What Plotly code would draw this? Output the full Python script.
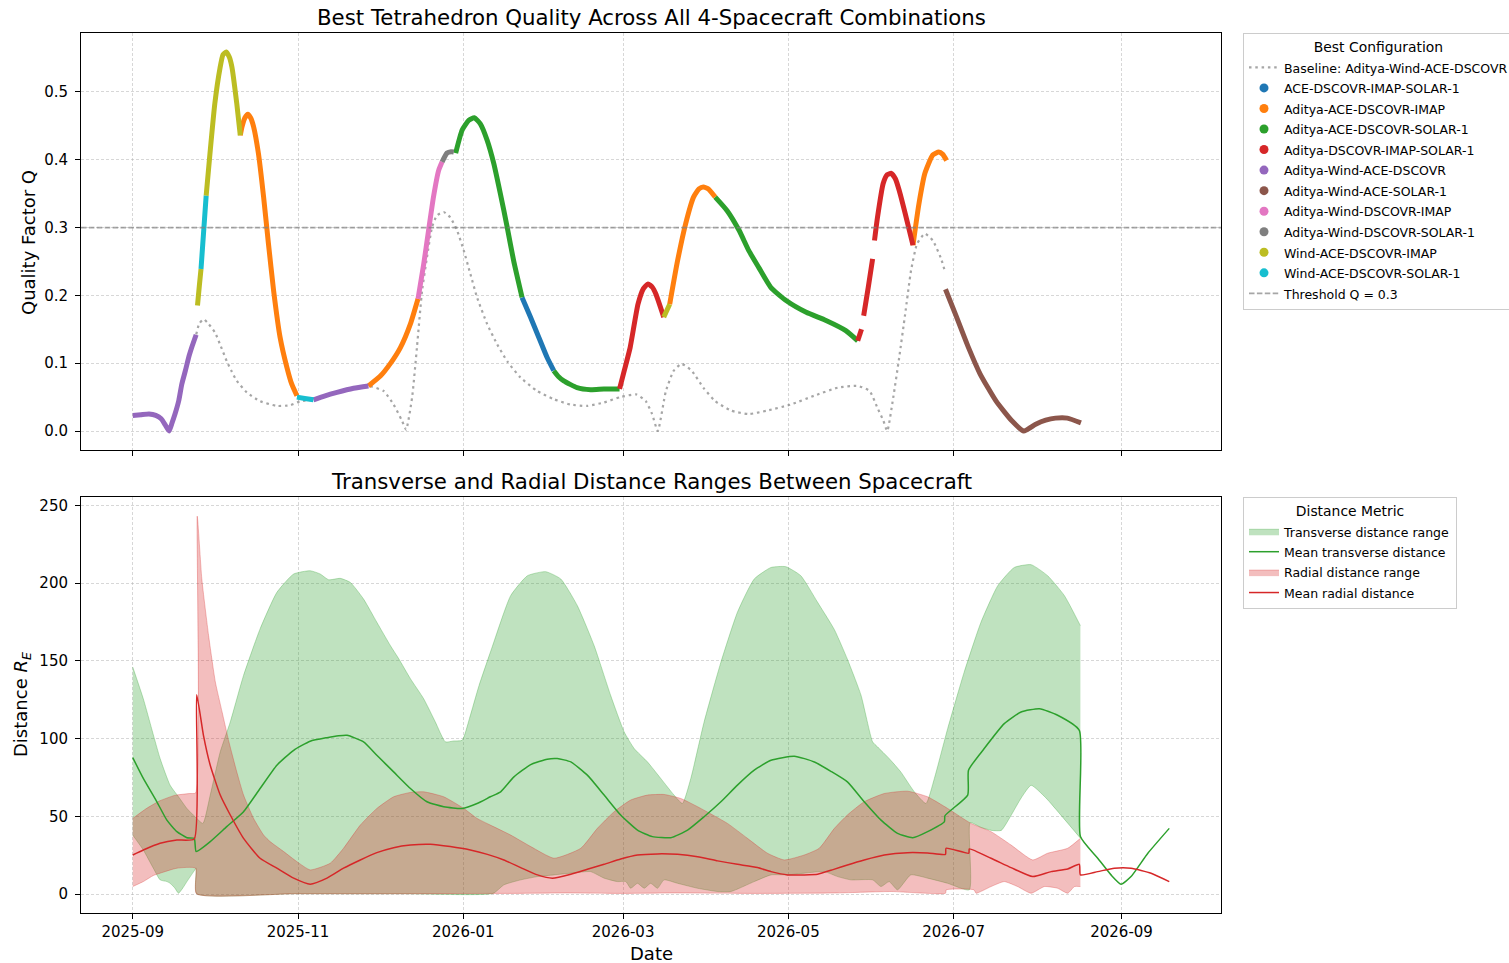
import pandas as pd
import plotly.graph_objects as go

START = pd.Timestamp("2025-09-01")

# ---------------- data: top panel ----------------
configs = [
    "ACE-DSCOVR-IMAP-SOLAR-1",
    "Aditya-ACE-DSCOVR-IMAP",
    "Aditya-ACE-DSCOVR-SOLAR-1",
    "Aditya-DSCOVR-IMAP-SOLAR-1",
    "Aditya-Wind-ACE-DSCOVR",
    "Aditya-Wind-ACE-SOLAR-1",
    "Aditya-Wind-DSCOVR-IMAP",
    "Aditya-Wind-DSCOVR-SOLAR-1",
    "Wind-ACE-DSCOVR-IMAP",
    "Wind-ACE-DSCOVR-SOLAR-1",
]
config_colors = ["#1f77b4", "#ff7f0e", "#2ca02c", "#d62728", "#9467bd",
                 "#8c564b", "#e377c2", "#7f7f7f", "#bcbd22", "#17becf"]

# days since 2025-09-01
best_day = [0, 3, 6, 8.5, 10.5, 12, 13.4, 14.5, 15.6, 17, 18.1, 19.5, 20.6, 22, 23.4,
            23.9, 24.6, 25.2,
            25.2, 26.1, 27.1,
            27.1, 28.5, 30.3, 32.2, 33.3, 34.5, 35.6, 36.6, 38.4, 39.7,
            39.7, 40.3, 41.4, 42.5, 43.5, 44.6, 46.4, 48.3, 50.1, 52, 54.4, 56.9, 58.7, 60.6,
            60.6, 63.5, 66.7,
            66.7, 71, 75.4, 81.5, 87,
            87, 91.4, 95, 98.8, 102.5, 105.3,
            105.3, 107.4, 109.2, 111, 112.9, 114.2,
            114.2, 116, 117.5, 118.5,
            119.2, 121.6, 124, 126.1, 128.3, 130.8, 133.3, 135.7, 138.2, 140.6, 143.7,
            143.7, 146.8, 149.9, 153, 155.4,
            155.4, 157.2, 159.1, 164, 169, 173.9, 179.7,
            179.7, 181.5, 183.6, 186.5, 188.5, 190.2, 191.8, 193.1, 196,
            196, 198.2,
            198.2, 201.1, 204.1, 207, 209, 210.6, 212.5, 215,
            215, 219.4, 223.8, 227.4, 231.1, 235.5, 241.3, 248.6, 255.9, 263.2, 267.6,
            267.6, 269, 269.4, 269.8, 271.5, 273.1, 273.45, 273.8, 274.9, 277, 278.5, 280, 281.5, 282.9, 285.8, 288,
            288, 290.2, 292.4, 295.3, 297.5, 299, 300.4,
            300, 304.1, 308.5, 312.8, 318.7, 324.5, 328.9, 333.3, 337, 340.6, 345, 350]
best_q = [0.023, 0.024, 0.025, 0.023, 0.018, 0.009, 0.0, 0.012, 0.025, 0.045, 0.069, 0.09, 0.108, 0.126, 0.142,
          0.185, 0.215, 0.239,
          0.239, 0.29, 0.347,
          0.347, 0.409, 0.483, 0.535, 0.555, 0.559, 0.552, 0.537, 0.483, 0.436,
          0.436, 0.448, 0.462, 0.467, 0.462, 0.449, 0.409, 0.345, 0.276, 0.207, 0.138, 0.094, 0.069, 0.052,
          0.050, 0.048, 0.046,
          0.046, 0.052, 0.057, 0.063, 0.0665,
          0.0665, 0.081, 0.099, 0.123, 0.158, 0.195,
          0.195, 0.246, 0.296, 0.345, 0.384, 0.397,
          0.397, 0.41, 0.412, 0.4115,
          0.41, 0.444, 0.458, 0.462, 0.453, 0.429, 0.394, 0.35, 0.301, 0.251, 0.197,
          0.197, 0.168, 0.138, 0.108, 0.089,
          0.089, 0.08, 0.074, 0.064, 0.061, 0.062, 0.062,
          0.062, 0.09, 0.123, 0.187, 0.21, 0.217, 0.212, 0.202, 0.168,
          0.168, 0.187,
          0.187, 0.251, 0.306, 0.345, 0.357, 0.36, 0.357, 0.345,
          0.345, 0.325, 0.296, 0.266, 0.241, 0.212, 0.192, 0.175, 0.163, 0.148, 0.133,
          0.133, 0.15, None, 0.17, 0.212, 0.254, None, 0.281, 0.315, 0.365, 0.378, 0.38, 0.372, 0.355, 0.31, 0.274,
          0.274, 0.335, 0.38, 0.407, 0.4115, 0.408, 0.399,
          0.209, 0.168, 0.123, 0.084, 0.044, 0.015, 0.0, 0.01, 0.016, 0.019, 0.019, 0.012]
best_cfg = ([4] * 15 + [8] * 3 + [9] * 3 + [8] * 10 + [1] * 14 + [9] * 3 + [4] * 5 + [1] * 6
            + [6] * 6 + [7] * 4 + [2] * 11 + [0] * 5 + [2] * 7 + [3] * 9 + [8] * 2 + [1] * 8
            + [2] * 11 + [3] * 16 + [1] * 7 + [5] * 12)

baseline_day = [0, 3, 6, 8.5, 10.5, 12, 13.4, 14.5, 15.6, 17, 18.1, 19.5, 20.6, 22, 23.4,
                24.5, 26.1, 28, 30.4, 32.5, 34.7, 36.5, 38.4, 42.1, 47, 53.2, 58.1, 61.8,
                66.7, 71, 75.4, 81.5, 87, 92.6, 96.3, 99.4, 100.9, 103.1, 104.9, 106.8, 108.6,
                110.5, 112.3, 114.8, 117.2, 119.7, 122.2, 124.6, 127.1, 130.8, 134.5, 138.2,
                143.1, 149.3, 155.4, 161.6, 167.7, 173.9, 180, 185.8, 189.4, 191.7, 193.8,
                196.8, 199.7, 202.6, 206.3, 210.6, 215, 220.9, 227.4, 234, 242.8, 251.5, 260.3,
                267.6, 272, 274.9, 277.1, 278.5, 280.7, 282.9, 285.1, 287.3, 289.5, 292.4,
                295.3, 298.2, 299.7]
baseline_q = [0.023, 0.024, 0.025, 0.023, 0.018, 0.009, 0.0, 0.012, 0.025, 0.045, 0.069, 0.09, 0.108, 0.126, 0.142,
              0.158, 0.165, 0.158, 0.145, 0.125, 0.103, 0.088, 0.074, 0.057, 0.044, 0.037, 0.038, 0.044,
              0.046, 0.052, 0.057, 0.063, 0.0665, 0.059, 0.039, 0.015, 0.002, 0.049, 0.123, 0.207, 0.256,
              0.301, 0.318, 0.323, 0.315, 0.296, 0.266, 0.232, 0.197, 0.158, 0.128, 0.103,
              0.079, 0.059, 0.047, 0.039, 0.037, 0.042, 0.05, 0.054, 0.044, 0.025, 0.0,
              0.059, 0.089, 0.099, 0.089, 0.064, 0.044, 0.03, 0.025, 0.03, 0.039, 0.052, 0.064,
              0.0665, 0.059, 0.034, 0.015, 0.0, 0.049, 0.108, 0.172, 0.237, 0.276, 0.291,
              0.281, 0.256, 0.237]
threshold_q = 0.3

# ---------------- data: bottom panel ----------------
trans_max_day = [0, 3.9, 10.1, 13.8, 16.9, 20, 23, 25.9, 28.6, 32.3, 36, 40.9, 47, 53.2, 59.4, 65.5,
                 69.2, 72.3, 76.6, 80.3, 85.2, 90.1, 95.1, 98.2, 102.5, 107.4, 111.7, 115.4, 118.5,
                 121.6, 124.3, 127.8, 132.5, 139.5, 145.7, 152.4, 158, 164.1, 170.3, 176.4, 181.4,
                 185.1, 190, 194.9, 199.8, 202.9, 206, 210.9, 217.1, 223.2, 229.4, 235.6, 241.1,
                 246.6, 252.8, 259, 263.8, 268.8, 273.1, 274.9, 279.2, 283.5, 288.5, 292.8, 295.9,
                 300.8, 306.9, 313.1, 319.3, 325.4, 331.6, 337.7, 343.9, 349.8]
trans_max = [146, 125.6, 87.2, 70, 62.6, 55.1, 49.8, 45.5, 63.7, 91.5, 110.7, 140.6, 170.5, 194, 205.8, 207.9,
             205.8, 202.1, 203, 200.4, 189.7, 174.8, 159.8, 151.3, 138.5, 125.6, 110.7, 97.9, 98.5,
             98.9, 113, 134, 158, 191.9, 204.7, 207.3, 202.6, 185.5, 159.8, 127.8, 104.3,
             93.6, 85, 74.4, 63.7, 58.3, 74.4, 110.7, 149.1, 181.2, 202.6, 210, 210.5,
             204.7, 187.6, 170, 151, 128, 97.9, 94.7, 87.2, 78.6, 65.8, 58.3, 74.4,
             106.4, 142.7, 174.8, 198.3, 210, 211.8, 204.7, 191.9, 172.6]

trans_min_day = [0, 3.9, 7.6, 10.1, 12.6, 13.8, 15.5, 16.9, 18.5, 20, 22.5, 23.4, 23.6, 60, 100, 133,
                 137, 143.2, 149.4, 155.5, 161.7, 169, 174, 178.9, 182, 183.8, 186.3, 188.8, 191.2,
                 193.7, 196.1, 201.1, 208.5, 215.9, 220.8, 229.4, 235.6, 241.7, 247.9, 255.3, 260.2,
                 265.1, 273.1, 276.2, 279.2, 282.3, 287.2, 293.4, 300.8, 308.8, 309.1, 313, 317,
                 320.6, 324, 328, 331.6, 337, 343, 349.8]
trans_min = [38, 28.4, 16.7, 9.2, 8.1, 7, 4, 0.6, 4, 8.1, 14.5, 16.7, 0.3, 0.3, 0.3, 0.5,
             6, 9.2, 11.3, 12.4, 13.5, 14.5, 10.3, 8.1, 8.1, 3.8, 7, 3.8, 7,
             3.8, 9.2, 7, 3.8, 1.7, 1.7, 8.1, 12.4, 12.4, 13.5, 14.5, 11.3,
             9.2, 9.2, 4.9, 8.1, 2.8, 12.4, 10.3, 7, 2.8, 46, 43, 41,
             41, 50, 62, 70, 62, 50, 36]

radial_max_day = [0, 5, 10, 15.5, 21, 23.2, 23.8, 25.5, 28, 30.5, 33, 35.5, 38.4, 40.9, 44.6, 48.3,
                  50.7, 55.7, 60.6, 65.5, 72.9, 77.8, 84, 90.1, 96.3, 102.5, 107.4, 114.8, 122.2,
                  127.1, 132, 139.5, 146.9, 155.5, 165.4, 171.5, 177.7, 183.8, 190, 196.1, 202.3,
                  208.5, 219.5, 226.9, 234.3, 240.5, 247.9, 253.4, 259, 263.8, 270, 277.4, 286,
                  293.4, 300.8, 309.4, 316.8, 324.2, 332.2, 337.7, 345.1, 349.8]
radial_max = [48.7, 55, 60, 63.5, 64.7, 65, 243, 202.6, 166.2, 136.3, 117, 97.9, 78.6, 63.7, 48.7, 38,
              33.8, 27.4, 20.9, 15.6, 19.9, 29.5, 44.4, 55.1, 62.6, 65.4, 65.8, 62.6, 55.1,
              48.7, 44.4, 38, 30.6, 23.1, 29.5, 42.3, 53, 60.5, 63.7, 64.1, 61.5,
              56.2, 45.5, 35.9, 26.3, 22, 25.2, 29.5, 42.3, 50.9, 59.4, 64.7, 66.2,
              62.6, 55.1, 45.5, 40.2, 31.6, 22, 26.3, 29.5, 35.9]

radial_min_day = [0, 3.9, 7.6, 10.1, 16.3, 23.2, 23.5, 60, 100, 133, 140, 160, 180, 200, 230, 260,
                  280, 300, 300.3, 310.5, 311.3, 316.8, 321.7, 326.6, 331.6, 336.5, 341.4, 345.1,
                  347.6, 349.8]
radial_min = [4.9, 8.1, 12, 13.5, 16.7, 16.7, 0.3, 0.3, 0.3, 0.5, 0.5, 0.8, 0.5, 0.8, 0.5, 0.8,
              1.7, 0.6, 2.8, 2.8, 0.6, 4.9, 8.1, 4.9, 0.6, 4.9, 3.8, 0.6,
              4.9, 4.9]

trans_mean_day = [0, 3.9, 8.9, 12.6, 16.3, 20, 22.7, 23.4, 28.6, 34.7, 40.9, 47, 53.2, 59.4, 65.5,
                  71.7, 76, 79.1, 85.2, 90.1, 96.3, 102.5, 108.6, 114.8, 121.6, 127.1, 132, 135.8,
                  140.7, 146.9, 153, 156.7, 161.7, 167.8, 174, 180.1, 186.3, 191.8, 198.6, 204.8,
                  210.9, 217.1, 223.2, 229.4, 235.6, 244.2, 251.6, 257.7, 263.8, 270, 276.2, 282.3,
                  287.9, 293.4, 299.6, 299.8, 308.2, 308.5, 314.3, 321.7, 327.9, 334.7, 341.4,
                  349.4, 349.8, 356.2, 361.1, 364.8, 368.5, 374.7, 382.6]
trans_mean = [87.8, 74.4, 59.4, 47.6, 40.2, 36.3, 35.9, 27.4, 33.8, 43.4, 53, 67.9, 82.9, 92.5, 98.3,
              100.6, 101.8, 102.1, 97.9, 89.3, 78.6, 67.9, 59.4, 56.2, 55.1, 58.3, 62.6, 65.8,
              75.4, 83.3, 86.8, 87.2, 85, 76.5, 63.7, 50.9, 41.2, 37, 36.3, 41.2,
              49.8, 59.4, 70.1, 79.7, 86.1, 88.7, 85, 79, 72.2, 59.4, 47.6, 39.1,
              36.3, 40.2, 46.6, 50.4, 63.7, 79.7, 93.6, 109.6, 117.1, 119.2, 115,
              105.3, 37, 23.1, 12.4, 6.4, 11.3, 26.3, 42.3]

radial_mean_day = [0, 3.9, 10.1, 16.3, 22.7, 23.6, 26.1, 28.6, 32.3, 36, 40.9, 47, 53.2, 59.4, 65.5,
                   71.7, 77.8, 84, 90.1, 96.3, 102.5, 109.9, 117.2, 124.6, 130.9, 137, 143.2, 149.4,
                   154.9, 161.7, 167.8, 174, 180.1, 186.3, 193.7, 201.1, 208.5, 215.9, 223.2, 230.6,
                   235.6, 241.7, 247.9, 252.8, 258.5, 263.8, 270, 277.4, 286, 293.4, 300, 300.2,
                   308.6, 308.8, 316.8, 324.2, 332.2, 339, 345.1, 349.4, 349.8, 356.2, 362.3, 368.5,
                   375.9, 382.6]
radial_mean = [25.2, 28.4, 32.7, 34.8, 35.5, 128.2, 102.1, 82.9, 63.7, 50.9, 35.9, 23.1, 16.7, 10.3, 6.4,
               10.3, 16.7, 22, 26.7, 29.9, 31.6, 32.1, 30.6, 28.4, 25.6, 22, 17.1, 12.4,
               10.3, 12.8, 16, 19.2, 22.6, 25.2, 25.9, 25.6, 24.1, 21.4, 19.2, 17.1,
               14.5, 12.4, 12.4, 12.8, 15.8, 18.8, 22, 25.2, 26.7, 26.5, 25.6, 29.5,
               26.3, 29.1, 23.1, 17.1, 11.3, 14.5, 16.2, 19.2, 12.4, 14.5, 16.7, 16.7,
               13.5, 8.1]

x_ticks = ["2025-09-01", "2025-11-01", "2026-01-01", "2026-03-01", "2026-05-01", "2026-07-01", "2026-09-01"]
x_tick_text = ["2025-09", "2025-11", "2026-01", "2026-03", "2026-05", "2026-07", "2026-09"]


def to_dates(days):
    return [START + pd.Timedelta(days=float(d)) for d in days]


def leg(name):
    # legend rows are spaced by the legend font size; the visible text is a bit smaller
    return '<span style="font-size:12.5px">' + name + '</span>'


# ---------------- figure ----------------
W, H = 1509, 963
FONT = "DejaVu Sans"
fig = go.Figure()

SPL = dict(shape="spline", smoothing=0.5)

# baseline dotted
fig.add_trace(go.Scatter(
    x=to_dates(baseline_day), y=baseline_q, mode="lines",
    line=dict(color="rgba(128,128,128,0.7)", width=2.2, dash="2.5px,3.8px", **SPL),
    name=leg("Baseline: Aditya-Wind-ACE-DSCOVR"), legend="legend", legendrank=1,
    xaxis="x", yaxis="y", hoverinfo="skip"))

best_dates = to_dates(best_day)
for i, cfg in enumerate(configs):
    ys = [q if c == i else None for q, c in zip(best_q, best_cfg)]
    fig.add_trace(go.Scatter(
        x=best_dates, y=ys, mode="lines", connectgaps=False,
        line=dict(color=config_colors[i], width=5, **SPL),
        showlegend=False, xaxis="x", yaxis="y", hoverinfo="skip"))

for i, cfg in enumerate(configs):
    fig.add_trace(go.Scatter(
        x=[None], y=[None], mode="markers",
        marker=dict(color=config_colors[i], size=9),
        name=leg(cfg), legend="legend", legendrank=2 + i, xaxis="x", yaxis="y"))

x_range_days = [-19.1, 401.7]
x_range = to_dates(x_range_days)
fig.add_trace(go.Scatter(
    x=x_range, y=[threshold_q, threshold_q], mode="lines",
    line=dict(color="rgba(128,128,128,0.7)", width=1.6, dash="5.5px,2.4px"),
    name=leg("Threshold Q = 0.3"), legend="legend", legendrank=20,
    xaxis="x", yaxis="y", hoverinfo="skip"))

# bottom panel
GREEN = "#2ca02c"
RED = "#d62728"
GF = "rgba(44,160,44,0.3)"
RF = "rgba(214,39,40,0.3)"
fig.add_trace(go.Scatter(
    x=to_dates(trans_min_day), y=trans_min, mode="lines",
    line=dict(color=GF, width=1, **SPL), showlegend=False,
    xaxis="x2", yaxis="y2", hoverinfo="skip"))
fig.add_trace(go.Scatter(
    x=to_dates(trans_max_day), y=trans_max, mode="lines", fill="tonexty", fillcolor=GF,
    line=dict(color=GF, width=1, **SPL), name=leg("Transverse distance range"),
    legend="legend2", legendrank=1, xaxis="x2", yaxis="y2", hoverinfo="skip"))
fig.add_trace(go.Scatter(
    x=to_dates(radial_min_day), y=radial_min, mode="lines",
    line=dict(color=RF, width=1, **SPL), showlegend=False,
    xaxis="x2", yaxis="y2", hoverinfo="skip"))
fig.add_trace(go.Scatter(
    x=to_dates(radial_max_day), y=radial_max, mode="lines", fill="tonexty", fillcolor=RF,
    line=dict(color=RF, width=1, **SPL), name=leg("Radial distance range"),
    legend="legend2", legendrank=3, xaxis="x2", yaxis="y2", hoverinfo="skip"))
fig.add_trace(go.Scatter(
    x=to_dates(trans_mean_day), y=trans_mean, mode="lines",
    line=dict(color=GREEN, width=1.5, **SPL), name=leg("Mean transverse distance"),
    legend="legend2", legendrank=2, xaxis="x2", yaxis="y2", hoverinfo="skip"))
fig.add_trace(go.Scatter(
    x=to_dates(radial_mean_day), y=radial_mean, mode="lines",
    line=dict(color=RED, width=1.5, **SPL), name=leg("Mean radial distance"),
    legend="legend2", legendrank=4, xaxis="x2", yaxis="y2", hoverinfo="skip"))

# ---------------- layout ----------------
X0, X1 = 81 / W, 1221 / W
axis_common = dict(
    showline=True, linecolor="black", linewidth=1, mirror=True,
    ticks="outside", ticklen=5, tickwidth=1, tickcolor="black",
    showgrid=True, gridcolor="rgba(176,176,176,0.5)", gridwidth=0.8, griddash="3px,2px",
    zeroline=False, tickfont=dict(family=FONT, size=15, color="black"),
)
fig.update_layout(
    width=W, height=H,
    margin=dict(l=0, r=0, t=0, b=0, autoexpand=False),
    paper_bgcolor="white", plot_bgcolor="white",
    font=dict(family=FONT, color="black"),
    xaxis=dict(domain=[X0, X1], range=x_range, tickvals=x_ticks, ticktext=x_tick_text,
               showticklabels=False, anchor="y", **axis_common),
    yaxis=dict(domain=[1 - 450 / H, 1 - 33 / H], range=[-0.028, 0.587], dtick=0.1, tick0=0,
               tickformat=".1f", anchor="x", ticklabelstandoff=4, **axis_common),
    xaxis2=dict(domain=[X0, X1], range=x_range, tickvals=x_ticks, ticktext=x_tick_text,
                anchor="y2", **axis_common),
    yaxis2=dict(domain=[1 - 913 / H, 1 - 497 / H], range=[-12.1, 255.3], dtick=50, tick0=0,
                anchor="x2", ticklabelstandoff=4, **axis_common),
    legend=dict(x=1243 / W, y=1 - 33 / H, xanchor="left", yanchor="top",
                bgcolor="rgba(255,255,255,0.8)", bordercolor="#cccccc", borderwidth=1,
                font=dict(family=FONT, size=13.5, color="black"),
                title=dict(text="Best Configuration", side="top center",
                           font=dict(family=FONT, size=13.9, color="black")),
                tracegroupgap=0, traceorder="normal"),
    legend2=dict(x=1243 / W, y=1 - 497 / H, xanchor="left", yanchor="top",
                 bgcolor="rgba(255,255,255,0.8)", bordercolor="#cccccc", borderwidth=1,
                 font=dict(family=FONT, size=13.4, color="black"),
                 title=dict(text="Distance Metric", side="top center",
                            font=dict(family=FONT, size=13.9, color="black")),
                 tracegroupgap=0, traceorder="normal"),
    showlegend=True,
)

annotations = [
    dict(text="Best Tetrahedron Quality Across All 4-Spacecraft Combinations",
         x=651 / W, y=1 - 17 / H, size=21.3, angle=0),
    dict(text="Transverse and Radial Distance Ranges Between Spacecraft",
         x=651 / W, y=1 - 481 / H, size=21.3, angle=0),
    dict(text="Date", x=651 / W, y=1 - 953 / H, size=18, angle=0),
    dict(text="Quality Factor Q", x=29 / W, y=1 - 243 / H, size=18, angle=-90),
    dict(text="Distance <i>R</i><sub><i>E</i></sub>", x=22 / W, y=1 - 705 / H, size=18, angle=-90),
]
for a in annotations:
    fig.add_annotation(text=a["text"], x=a["x"], y=a["y"], xref="paper", yref="paper",
                       xanchor="center", yanchor="middle", showarrow=False, textangle=a["angle"],
                       font=dict(family=FONT, size=a["size"], color="black"))

fig.write_html("out.html", config={"displayModeBar": False},
               post_script="document.body.style.margin='0';document.body.style.overflow='hidden';")
